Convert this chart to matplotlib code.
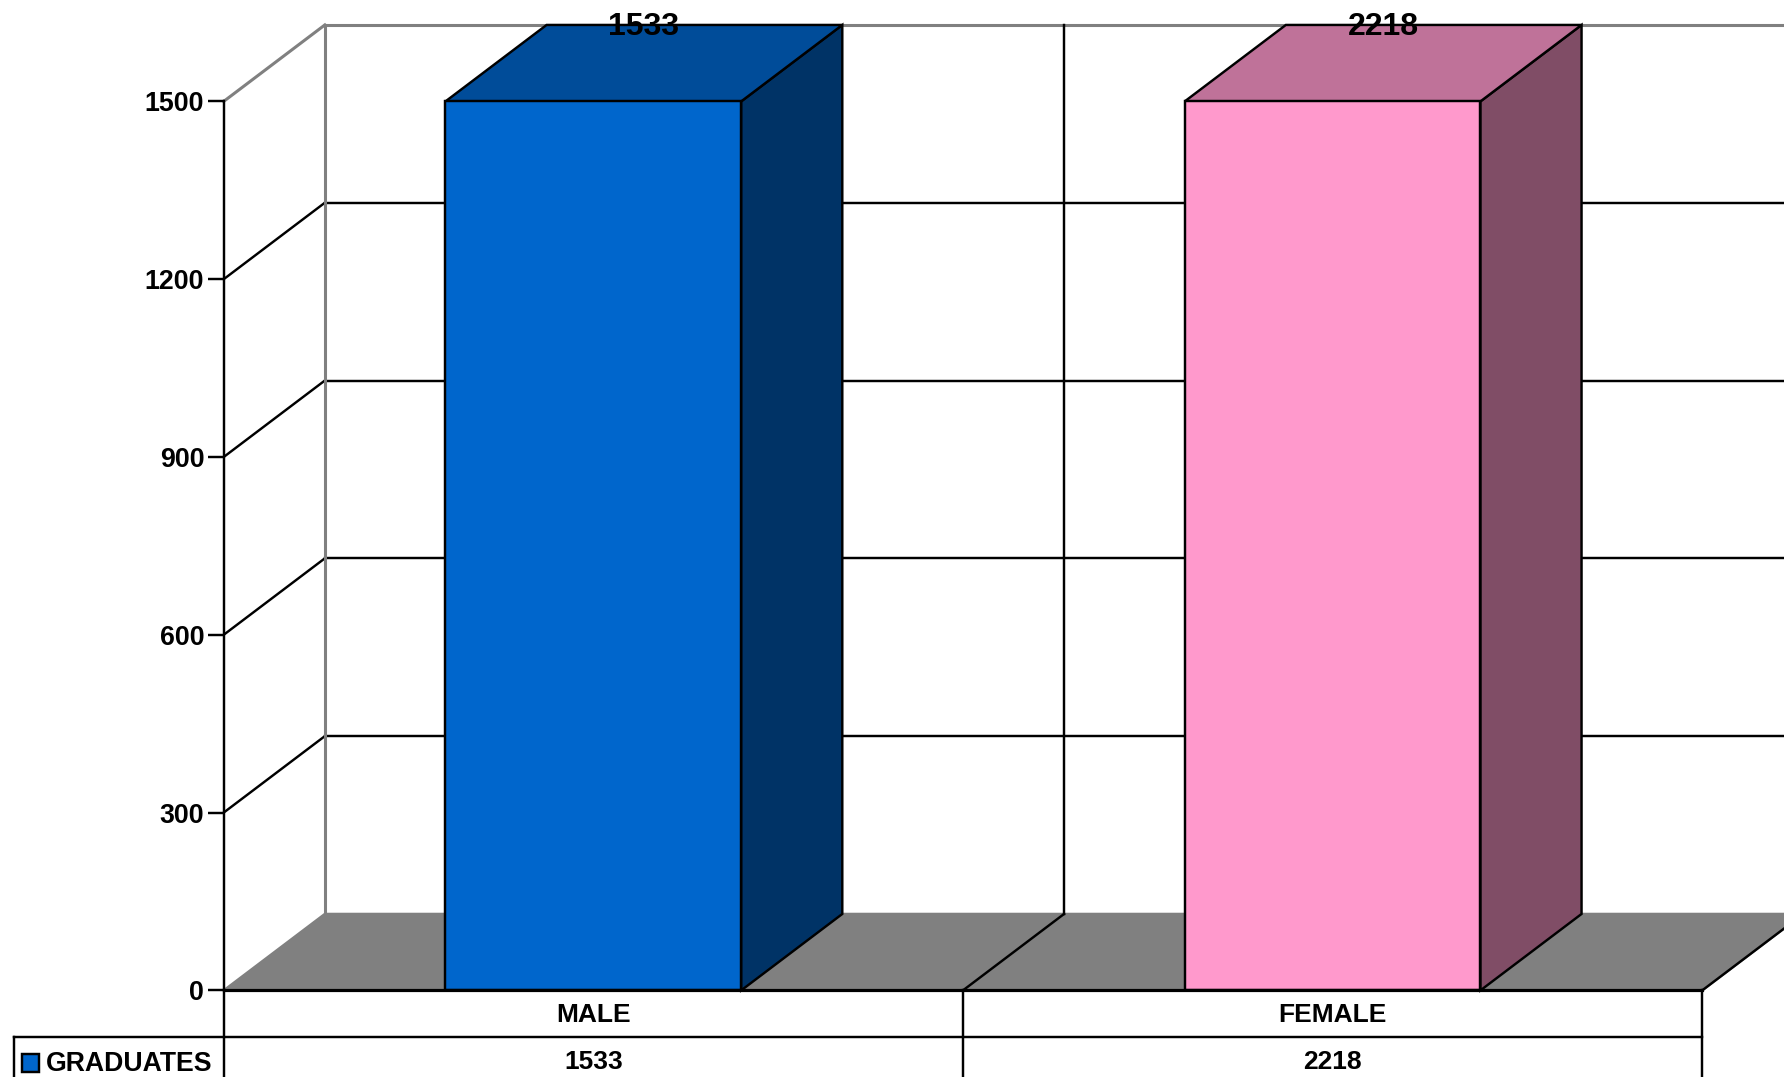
import matplotlib
matplotlib.use('Agg')
import matplotlib.pyplot as plt
from matplotlib.patches import Polygon, Rectangle

categories = ['MALE', 'FEMALE']
graduates = [1533, 2218]
series_name = 'GRADUATES'
yticks = [0, 300, 600, 900, 1200, 1500]

front_colors = ['#0066CC', '#FF99CC']
top_colors = ['#004C99', '#BF7299']
side_colors = ['#003366', '#804D66']

plt.rcParams['font.family'] = ['Liberation Sans', 'DejaVu Sans']
plt.rcParams['font.weight'] = 'bold'

fig = plt.figure(figsize=(17.84, 10.77), dpi=100)
ax = fig.add_axes([223.7 / 1784, 86.6 / 1077, (1702 - 223.5) / 1784, 889 / 1077])
ax.patch.set_alpha(0)

y_max = yticks[-1]
n = len(categories)
ax.set_xlim(0, n)
ax.set_ylim(0, y_max)

# 3d look: offset of the back wall, in axis units
depth_x = 0.1368
depth_y = 129
bar_w = 0.4
row_h = 79
lw = 1.75
gray = '#808080'


def line(xs, ys, color='black', width=lw, z=1):
    ax.plot(xs, ys, color=color, lw=width, zorder=z, clip_on=False, solid_capstyle='projecting')


def poly(pts, face, edge='black', z=3):
    ax.add_patch(Polygon(pts, closed=True, facecolor=face, edgecolor=edge, lw=lw,
                         zorder=z, clip_on=False, joinstyle='miter'))


# floor
poly([(0, 0), (depth_x, depth_y), (n + depth_x, depth_y), (n, 0)], gray, edge=gray, z=1)

# walls and grid
for v in yticks[1:]:
    c = gray if v == y_max else 'black'
    w = 2.2 if v == y_max else lw
    line([0, depth_x], [v, v + depth_y], c, width=w, z=1.2)
    line([depth_x, n + depth_x], [v + depth_y, v + depth_y], c, width=w, z=1.2)
line([depth_x, depth_x], [depth_y, y_max + depth_y], gray, width=2.2, z=1.3)
for i in range(1, n + 1):
    line([i, i + depth_x], [0, depth_y], z=1.3)
    line([i + depth_x, i + depth_x], [depth_y, y_max + depth_y], z=1.3)

# bars, cut off at the top of the axis
for i, val in enumerate(graduates):
    h = min(val, y_max)
    x0 = i + 0.5 - bar_w / 2
    x1 = i + 0.5 + bar_w / 2
    poly([(x1, 0), (x1 + depth_x, depth_y), (x1 + depth_x, h + depth_y), (x1, h)], side_colors[i])
    poly([(x0, h), (x0 + depth_x, h + depth_y), (x1 + depth_x, h + depth_y), (x1, h)], top_colors[i])
    poly([(x0, 0), (x1, 0), (x1, h), (x0, h)], front_colors[i], z=4)
    ax.text(i + 0.5 + depth_x / 2, y_max + depth_y - 3, str(val), ha='center', va='center',
            fontsize=23, fontweight='bold', zorder=6, clip_on=False)

# y axis
for s in ['top', 'right', 'bottom']:
    ax.spines[s].set_visible(False)
ax.spines['left'].set_linewidth(lw)
ax.set_xticks([])
ax.set_yticks(yticks)
ax.tick_params(axis='y', length=11.5, width=lw, pad=2.5, labelsize=19.3)

# data table under the chart
legend_x = -0.283
line([0, n], [0, 0], width=2.3, z=5)
line([legend_x, n], [-row_h, -row_h], z=5)
line([legend_x, n], [-2 * row_h, -2 * row_h], z=5)
line([legend_x, legend_x], [-row_h, -2 * row_h], z=5)
for i in range(n + 1):
    line([i, i], [0, -2 * row_h], z=5)
for i, name in enumerate(categories):
    ax.text(i + 0.5, -41, name, ha='center', va='center', fontsize=19, clip_on=False)
    ax.text(i + 0.5, -121, str(graduates[i]), ha='center', va='center', fontsize=19, clip_on=False)
ax.add_patch(Rectangle((-0.2734, -137), 0.0241, 30.3, facecolor=front_colors[0], edgecolor='black',
                       lw=lw, zorder=5, clip_on=False))
ax.text(-0.2410, -125, series_name, ha='left', va='center', fontsize=19.2, clip_on=False)

fig.savefig('out.png', dpi=100)
